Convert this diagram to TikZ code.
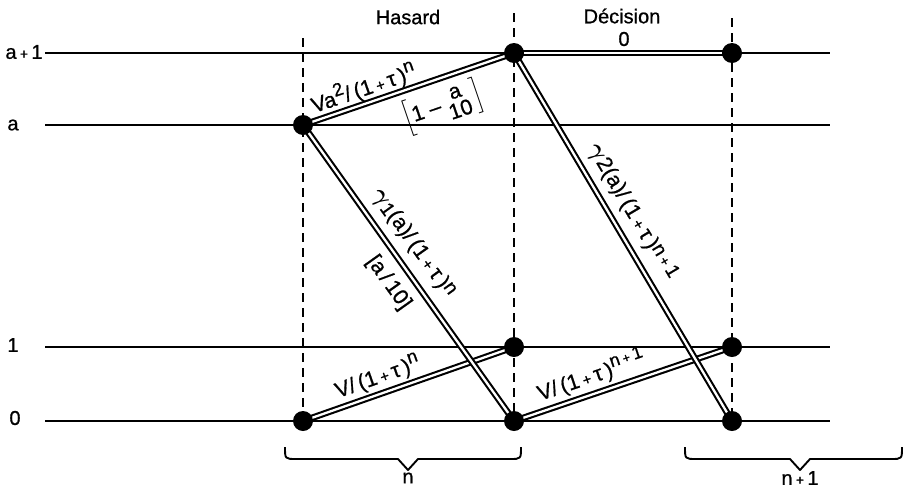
\documentclass[tikz,border=0pt]{standalone}
\usepackage{fontspec}
\usepackage{amsmath}
\usepackage{graphicx}
\setmainfont{Liberation Sans}[FakeBold=0.8]
\usetikzlibrary{calc}
\pgfdeclarelayer{background}
\pgfsetlayers{background,main}
\newcommand{\spr}[1]{\raisebox{0.4em}{\scalebox{0.85}{#1}}}
\newcommand{\lowr}[1]{\raisebox{0.2em}{\scalebox{0.9}{#1}}}
\newcommand{\dn}[1]{\raisebox{-0.1em}{\scalebox{0.9}{#1}}}
\newcommand{\pl}{\,\scalebox{0.7}{+}\,}
\newcommand{\gam}{\scalebox{1.2}{$\boldsymbol{\gamma}$}}
\begin{document}
\begin{tikzpicture}[x=1pt,y=-1pt,
  font=\fontsize{20}{22}\selectfont,
  hline/.style={line width=1.4pt},
  vdash/.style={line width=1.4pt, dash pattern=on 9pt off 6pt},
  dbl/.style={line width=2.1pt, double, double distance=2.3pt},
  dot/.style={circle, fill=black, inner sep=0pt, minimum size=20pt},
  lbl/.style={inner sep=0pt},
  elbl/.style={inner sep=0pt, font=\fontsize{21.5}{23}\selectfont},
  brace/.style={line width=1.9pt, line join=round}]
\useasboundingbox (0,0) rectangle (903,496);

% nodes (states)
\node[dot] (A) at (303,125) {};
\node[dot] (B) at (514,53) {};
\node[dot] (C) at (732,53) {};
\node[dot] (D) at (514,347) {};
\node[dot] (E) at (732,347) {};
\node[dot] (F) at (303,421) {};
\node[dot] (G) at (514,421) {};
\node[dot] (H) at (732,421) {};

% end points of level lines and column lines
\coordinate (h1s) at (45,53);  \coordinate (h1e) at (830,53);
\coordinate (h2s) at (45,125); \coordinate (h2e) at (830,125);
\coordinate (h3s) at (45,347); \coordinate (h3e) at (830,347);
\coordinate (h4s) at (45,421); \coordinate (h4e) at (830,421);
\coordinate (v1t) at (303,38);
\coordinate (v2t) at (514,13);
\coordinate (v3t) at (732,18);

\begin{pgfonlayer}{background}
  \draw[hline] (h1s) -- (h1e);
  \draw[hline] (h2s) -- (h2e);
  \draw[hline] (h3s) -- (h3e);
  \draw[hline] (h4s) -- (h4e);
  \draw[vdash] (v1t) -- (F.center);
  \draw[vdash] (v2t) -- (G.center);
  \draw[vdash] (v3t) -- (H.center);
  % shallow transitions first
  \draw[dbl] (A.center) -- (B.center);
  \draw[dbl] (B.center) -- (C.center);
  \draw[dbl] (F.center) -- (D.center);
  \draw[dbl] (G.center) -- (E.center);
  % steep transitions on top
  \draw[dbl] (A.center) -- (G.center);
  \draw[dbl] (B.center) -- (H.center);
\end{pgfonlayer}

% column titles
\node[lbl] (hasard) at (408,17) {Hasard};
\node[lbl] (decision) at (622,16) {Décision};
\node[lbl] (zero) at (624,39) {0};

% level labels
\node[lbl] (la1) at (24,52) {a\pl 1};
\node[lbl] (la) at (13,125) {a};
\node[lbl] (l1) at (13,345) {1};
\node[lbl] (l0) at (15,418) {0};

% edge labels
\node[elbl, rotate=18.84] (tAB) at ($(A)!0.31!(B)!16pt!90:(B)$)
  {Va\spr{2}/\,(1\pl τ\,)\spr{n}};
\node[elbl, rotate=18.84] (bAB) at ($(A)!0.62!(B)!-28pt!90:(B)$)
  {$\left[\text{1 – }\vcenter{\hbox{\shortstack{a\\[1pt]10}}}\,\right]$};
\node[elbl, rotate=-54.5] (tAG) at ($(A)!0.44!(G)!21pt!90:(G)$)
  {\gam\dn{1}(a)/\,(1\pl τ\,)\lowr{n}};
\node[elbl, rotate=-54.5] (bAG) at ($(A)!0.49!(G)!-22pt!90:(G)$)
  {[a\,/\,10]};
\node[elbl, rotate=-59.36] (tBH) at ($(B)!0.46!(H)!21pt!90:(H)$)
  {\gam 2(a)/\,(1\pl τ\,)\lowr{n\pl 1}};
\node[elbl, rotate=19.32] (tFD) at ($(F)!0.38!(D)!17pt!90:(D)$)
  {V/\,(1\pl τ\,)\spr{n}};
\node[elbl, rotate=18.75] (tGE) at ($(G)!0.38!(E)!19pt!90:(E)$)
  {V/\,(1\pl τ\,)\spr{n\pl 1}};

% braces
\coordinate (b1l) at (285,447); \coordinate (b1r) at (521,447);
\coordinate (b1t) at (408,470);
\coordinate (b2l) at (685,447); \coordinate (b2r) at (902,447);
\coordinate (b2t) at (800,470);
\draw[brace] (b1l) .. controls (285,459) .. (296,459) -- (398,459) -- (b1t)
  -- (418,459) -- (510,459) .. controls (521,459) .. (b1r);
\draw[brace] (b2l) .. controls (685,459) .. (696,459) -- (790,459) -- (b2t)
  -- (810,459) -- (891,459) .. controls (902,459) .. (b2r);
\node[lbl] (nlab) at (408,478) {n};
\node[lbl] (n1lab) at (800,478) {n\pl 1};
\end{tikzpicture}
\end{document}
